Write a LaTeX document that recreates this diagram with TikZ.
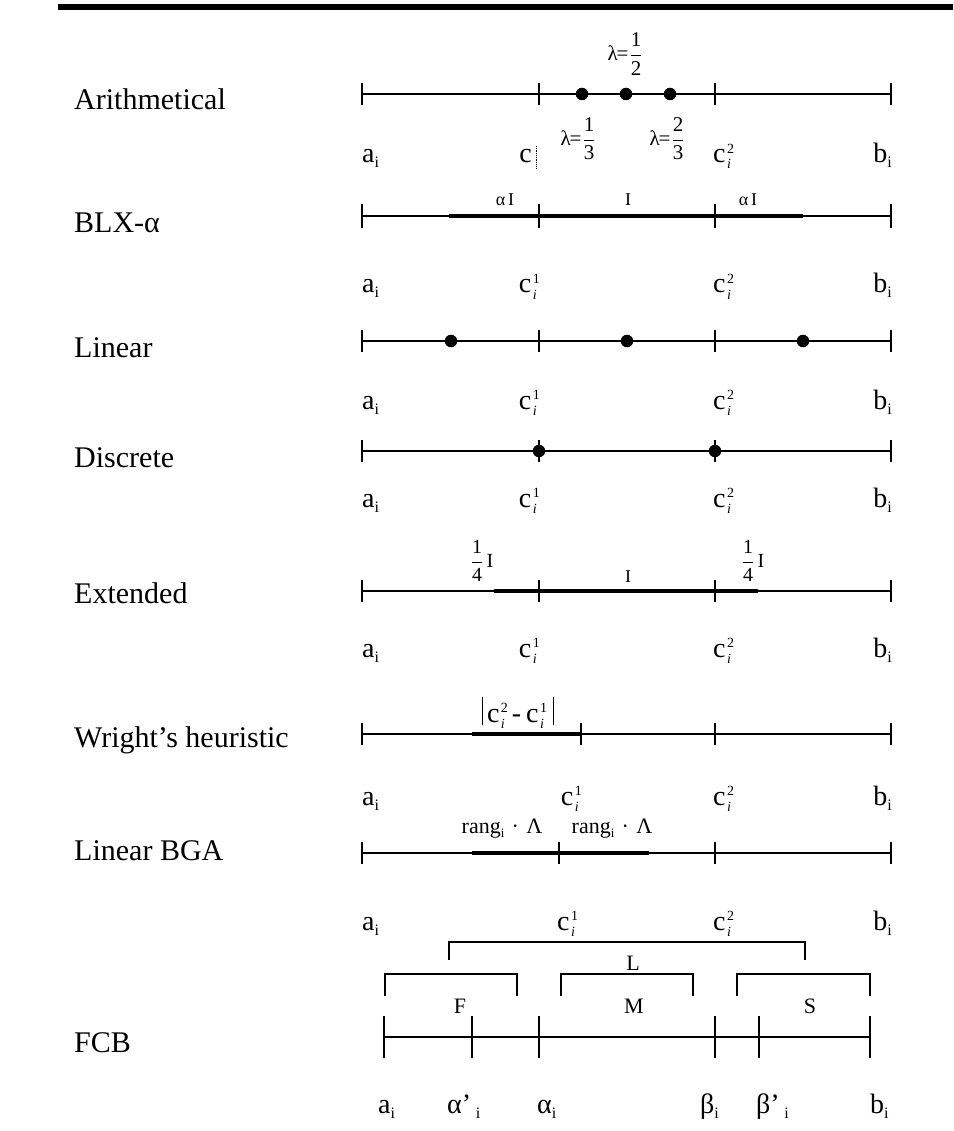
\documentclass[tikz,border=0pt]{standalone}
\usepackage{fontspec}
\setmainfont{Liberation Serif}
\usepackage{amsmath}
\usepackage{graphicx}
\newcommand\sbi{\raisebox{-5pt}{\fontsize{16}{16}\selectfont i}}
\newcommand\myc[1]{c\kern1.5pt\rlap{\raisebox{9.5pt}{\fontsize{14}{14}\selectfont #1}}\raisebox{-6pt}{\fontsize{14}{14}\selectfont\itshape i}\kern3pt}
\newcommand\lamfrac[2]{λ\kern-1pt=\kern1pt$\dfrac{\text{#1}}{\text{#2}}$}
\newcommand\qfrac{$\dfrac{\text{1}}{\text{4}}$\,I}
\newcommand\vbar{\rule[-3pt]{1.4pt}{28pt}}
\tikzset{
  lab/.style={font=\fontsize{30}{36}\selectfont, inner sep=0pt, anchor=base west},
  ax/.style={font=\fontsize{28}{34}\selectfont, inner sep=0pt},
  sm/.style={font=\fontsize{18}{22}\selectfont, inner sep=0pt},
  frac/.style={font=\fontsize{21}{25}\selectfont, inner sep=0pt},
  letter/.style={font=\fontsize{22}{26}\selectfont, inner sep=0pt},
  axisline/.style={line width=1.8pt},
  boldseg/.style={line width=4.2pt},
  tickmark/.style={line width=1.8pt},
  bracketline/.style={line width=1.8pt},
  dot/.style={circle, fill=black, inner sep=0pt, minimum size=12.5pt},
}
\begin{document}
\begin{tikzpicture}[x=1pt,y=-1pt]
\useasboundingbox (0,0) rectangle (953,1131);
% top rule
\draw[line width=6pt] (58,7.5) -- (953,7.5);

% ---------- Arithmetical
\node[lab] (n1) at (74,110) {Arithmetical};
\draw[axisline] (362,94) -- (891,94);
\foreach \x in {362,539,715,891} \draw[tickmark] (\x,83) -- (\x,105);
\node[dot] (d11) at (582,94) {};
\node[dot] (d12) at (626,94) {};
\node[dot] (d13) at (670,94) {};
\node[frac] (l12) at (625,54) {\lamfrac{1}{2}};
\node[frac] (l11) at (578,139) {\lamfrac{1}{3}};
\node[frac] (l13) at (667,139) {\lamfrac{2}{3}};
\node[ax,anchor=base west] (a1) at (362,163) {a\sbi};
\node[ax,anchor=base east] (c11) at (532,163) {c};
\draw[line width=0.8pt, densely dotted] (536,146) -- (536,169);
\node[ax,anchor=base west] (c12) at (713,163) {\myc{2}};
\node[ax,anchor=base east] (b1) at (892,163) {b\sbi};

% ---------- BLX-alpha
\node[lab] (n2) at (74,233) {BLX-α};
\draw[axisline] (362,216) -- (891,216);
\draw[boldseg] (449,216) -- (803,216);
\foreach \x in {362,539,715,891} \draw[tickmark] (\x,204) -- (\x,228);
\node[sm] (s21) at (505,200) {α\,I};
\node[sm] (s22) at (628,200) {I};
\node[sm] (s23) at (748,200) {α\,I};
\node[ax,anchor=base west] (a2) at (362,293) {a\sbi};
\node[ax,anchor=base east] (c21) at (540,293) {\myc{1}};
\node[ax,anchor=base west] (c22) at (713,293) {\myc{2}};
\node[ax,anchor=base east] (b2) at (892,293) {b\sbi};

% ---------- Linear
\node[lab] (n3) at (74,357) {Linear};
\draw[axisline] (362,341) -- (891,341);
\foreach \x in {362,539,715,891} \draw[tickmark] (\x,330) -- (\x,352);
\node[dot] (d31) at (451,341) {};
\node[dot] (d32) at (627,341) {};
\node[dot] (d33) at (803,341) {};
\node[ax,anchor=base west] (a3) at (362,409) {a\sbi};
\node[ax,anchor=base east] (c31) at (540,409) {\myc{1}};
\node[ax,anchor=base west] (c32) at (713,409) {\myc{2}};
\node[ax,anchor=base east] (b3) at (892,409) {b\sbi};

% ---------- Discrete
\node[lab] (n4) at (74,467) {Discrete};
\draw[axisline] (362,451) -- (891,451);
\foreach \x in {362,539,715,891} \draw[tickmark] (\x,440) -- (\x,462);
\node[dot] (d41) at (539,451) {};
\node[dot] (d42) at (715,451) {};
\node[ax,anchor=base west] (a4) at (362,507) {a\sbi};
\node[ax,anchor=base east] (c41) at (540,507) {\myc{1}};
\node[ax,anchor=base west] (c42) at (713,507) {\myc{2}};
\node[ax,anchor=base east] (b4) at (892,507) {b\sbi};

% ---------- Extended
\node[lab] (n5) at (74,603) {Extended};
\draw[axisline] (362,591) -- (891,591);
\draw[boldseg] (494,591) -- (758,591);
\foreach \x in {362,539,715,891} \draw[tickmark] (\x,580) -- (\x,602);
\node[frac,font=\fontsize{20}{24}\selectfont] (s51) at (482,561) {\qfrac};
\node[sm] (s52) at (628,577) {I};
\node[frac,font=\fontsize{20}{24}\selectfont] (s53) at (753,561) {\qfrac};
\node[ax,anchor=base west] (a5) at (362,657) {a\sbi};
\node[ax,anchor=base east] (c51) at (540,657) {\myc{1}};
\node[ax,anchor=base west] (c52) at (713,657) {\myc{2}};
\node[ax,anchor=base east] (b5) at (892,657) {b\sbi};

% ---------- Wright's heuristic
\node[lab] (n6) at (74,747) {Wright’s heuristic};
\draw[axisline] (362,734) -- (891,734);
\draw[boldseg] (472,734) -- (581,734);
\foreach \x in {362,581,715,891} \draw[tickmark] (\x,723) -- (\x,745);
\node[ax,anchor=base] (s61) at (518,722) {\vbar\kern4pt\myc{2}\kern4pt-\kern5pt\myc{1}\kern6pt\vbar};
\node[ax,anchor=base west] (a6) at (362,805) {a\sbi};
\node[ax,anchor=base east] (c61) at (582,805) {\myc{1}};
\node[ax,anchor=base west] (c62) at (713,805) {\myc{2}};
\node[ax,anchor=base east] (b6) at (892,805) {b\sbi};

% ---------- Linear BGA
\node[lab] (n7) at (74,860) {Linear BGA};
\draw[axisline] (362,853) -- (891,853);
\draw[boldseg] (472,853) -- (649,853);
\foreach \x in {362,559,715,891} \draw[tickmark] (\x,842) -- (\x,864);
\node[sm,font=\fontsize{22}{26}\selectfont] (s71) at (502,829) {rang\raisebox{-3.5pt}{\fontsize{13}{13}\selectfont i}\,\,·\,\,Λ};
\node[sm,font=\fontsize{22}{26}\selectfont] (s72) at (612,829) {rang\raisebox{-3.5pt}{\fontsize{13}{13}\selectfont i}\,\,·\,\,Λ};
\node[ax,anchor=base west] (a7) at (362,930) {a\sbi};
\node[ax,anchor=base west] (c71) at (557,930) {\myc{1}};
\node[ax,anchor=base west] (c72) at (713,930) {\myc{2}};
\node[ax,anchor=base east] (b7) at (892,930) {b\sbi};

% ---------- FCB
\node[lab] (n8) at (74,1052) {FCB};
\draw[bracketline] (449,960) -- (449,942) -- (805,942) -- (805,960);
\node[letter] (L) at (633,963) {L};
\draw[bracketline] (385,996) -- (385,974) -- (517,974) -- (517,996);
\draw[bracketline] (561,996) -- (561,974) -- (693,974) -- (693,996);
\draw[bracketline] (737,996) -- (737,974) -- (870,974) -- (870,996);
\node[letter] (F) at (460,1006) {F};
\node[letter] (M) at (634,1006) {M};
\node[letter] (S) at (810,1006) {S};
\draw[axisline] (384,1037) -- (870,1037);
\foreach \x in {384,472,539,715,759,870} \draw[tickmark] (\x,1016) -- (\x,1058);
\node[ax,anchor=base west] (a8) at (378,1113) {a\sbi};
\node[ax,anchor=base west] (al1) at (447,1113) {α’\,\sbi};
\node[ax,anchor=base west] (al2) at (537,1113) {α\sbi};
\node[ax,anchor=base east] (be2) at (719,1113) {β\sbi};
\node[ax,anchor=base west] (be1) at (756,1113) {β’\,\sbi};
\node[ax,anchor=base west] (b8) at (870,1113) {b\sbi};
\end{tikzpicture}
\end{document}
